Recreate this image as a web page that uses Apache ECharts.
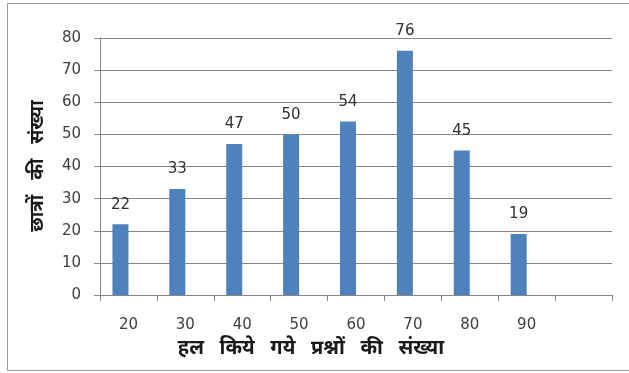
<!DOCTYPE html>
<html>
<head>
<meta charset="utf-8">
<script src="https://cdn.jsdelivr.net/npm/echarts@6/dist/echarts.min.js"></script>
<style>
html,body{margin:0;padding:0;background:#fff;}
#c{width:629px;height:373px;}
</style>
</head>
<body>
<div id="c"></div>
<script>
var categories = ['20','30','40','50','60','70','80','90',''];
var students = [22, 33, 47, 50, 54, 76, 45, 19, null];
var emptySeries = [null, null, null, null, null, null, null, null, null];
var yTicks = [0, 10, 20, 30, 40, 50, 60, 70, 80];
var xTitle = 'हल   किये   गये   प्रश्नों   की   संख्या';
var yTitle = 'छात्रों   की   संख्या';

var chart = echarts.init(document.getElementById('c'), null, {renderer:'canvas'});
var numFont = 'DejaVu Sans, Verdana, sans-serif';
chart.setOption({
  animation:false,
  backgroundColor:'#fff',
  grid:{left:100, right:17, top:38, bottom:78, containLabel:false},
  graphic:[
    {type:'rect', shape:{x:7.5, y:3.5, width:640, height:367}, style:{fill:'none', stroke:'#9a9a9a', lineWidth:1}, z:-1},
    {type:'text', x:311, y:348, style:{text:xTitle, font:'bold 20px "Noto Sans", "DejaVu Sans", sans-serif', fill:'#1a1a1a', textAlign:'center', textVerticalAlign:'middle'}},
    {type:'text', x:38, y:166, rotation:Math.PI/2, style:{text:yTitle, font:'bold 19px "Noto Sans", "DejaVu Sans", sans-serif', fill:'#1a1a1a', textAlign:'center', textVerticalAlign:'middle'}}
  ],
  xAxis:{
    type:'category', data:categories,
    axisLine:{lineStyle:{color:'#868686'}},
    axisTick:{show:true, length:6, alignWithLabel:false, lineStyle:{color:'#868686'}},
    axisLabel:{margin:23, color:'#404040', fontSize:15, fontFamily:numFont}
  },
  yAxis:{
    type:'value', min:yTicks[0], max:yTicks[yTicks.length-1], interval:10,
    axisLine:{show:true, lineStyle:{color:'#868686'}},
    axisTick:{show:true, length:6, lineStyle:{color:'#868686'}},
    splitLine:{lineStyle:{color:'#868686'}},
    axisLabel:{margin:19, color:'#404040', fontSize:15, fontFamily:numFont}
  },
  series:[
    {type:'bar', data:students, barWidth:16, barGap:'0%', itemStyle:{color:'#4F81BD'},
     label:{show:true, position:'top', distance:12, color:'#303030', fontSize:15, fontFamily:numFont}},
    {type:'bar', data:emptySeries, barWidth:16, itemStyle:{color:'#C0504D'}}
  ]
});
</script>
</body>
</html>
